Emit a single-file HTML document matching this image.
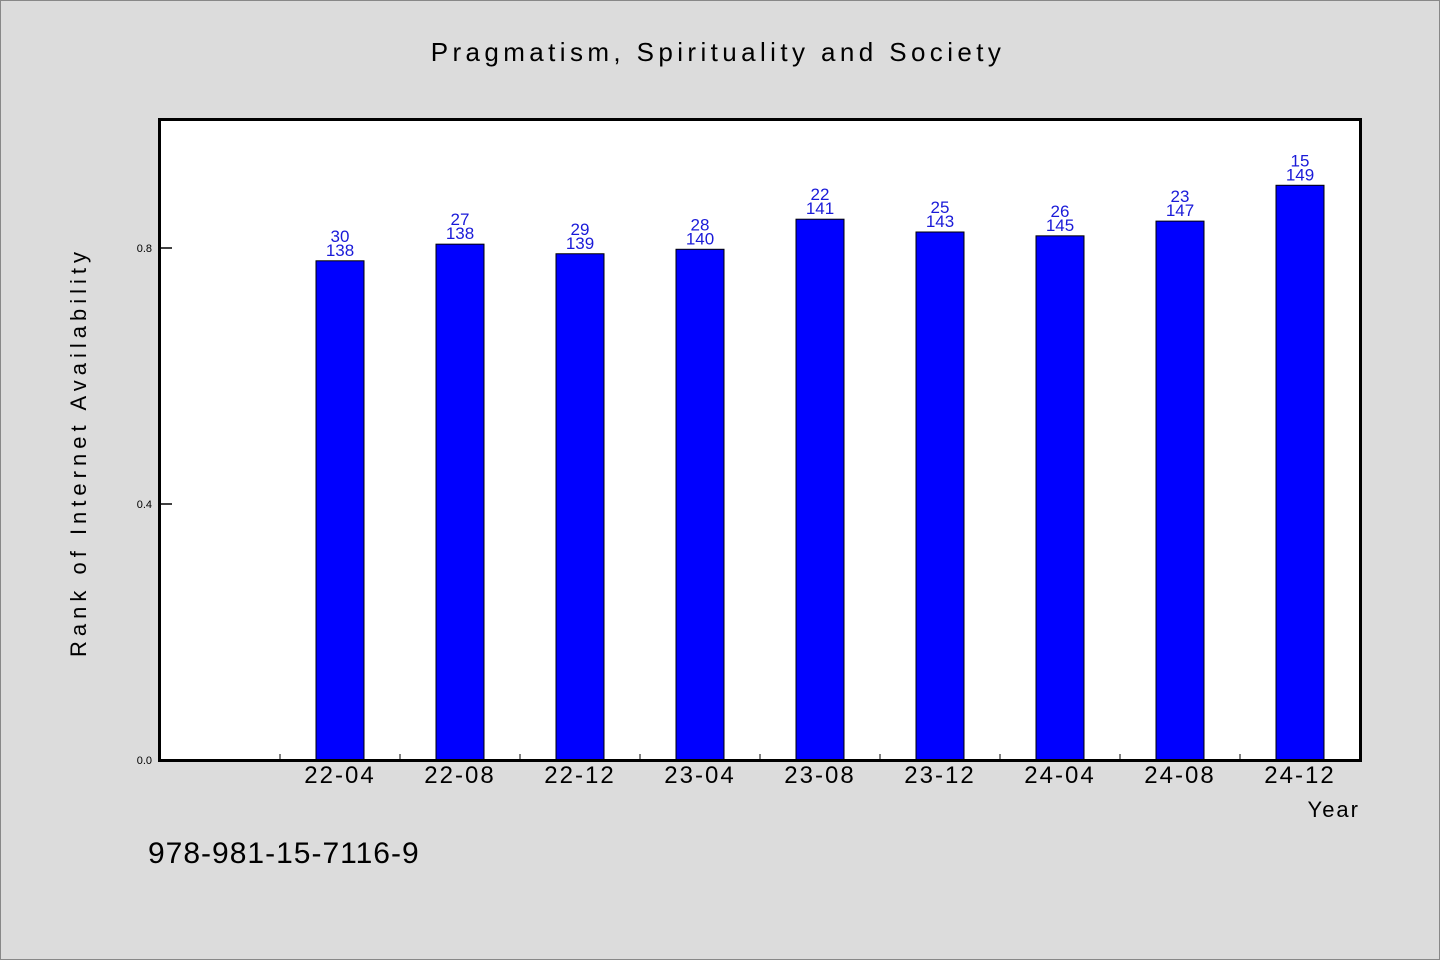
<!DOCTYPE html>
<html><head><meta charset="utf-8"><style>
html,body{margin:0;padding:0;background:#dcdcdc;}
svg{display:block;font-family:"Liberation Sans",sans-serif;}
</style></head><body>
<svg id="chart" width="1440" height="960" xmlns="http://www.w3.org/2000/svg">
<rect x="0.5" y="0.5" width="1439" height="959" fill="#dcdcdc" stroke="#888"/>
<text x="718" y="61" font-size="26" letter-spacing="4.4" text-anchor="middle" fill="#000">Pragmatism, Spirituality and Society</text>
<rect x="159.5" y="119.5" width="1201" height="641" fill="#fff"/>
<g id="marks"></g>
<rect x="159.5" y="119.5" width="1201" height="641" fill="none" stroke="#000" stroke-width="3"/>
<text x="86" y="452" font-size="22" letter-spacing="5" text-anchor="middle" transform="rotate(-90 86 452)" fill="#000">Rank of Internet Availability</text>
<text x="1360" y="817" font-size="22" letter-spacing="2" text-anchor="end" fill="#000">Year</text>
<text x="148" y="863" font-size="30" letter-spacing="1" fill="#000">978-981-15-7116-9</text>
</svg>
<script>
const categories = ["22-04","22-08","22-12","23-04","23-08","23-12","24-04","24-08","24-12"];
const values = [0.780,0.806,0.791,0.798,0.845,0.825,0.819,0.842,0.898];
const ranks = ["30","27","29","28","22","25","26","23","15"];
const counts = ["138","138","139","140","141","143","145","147","149"];
const yTicks = [0.0,0.4,0.8];
const yTickLabels = ["0.0","0.4","0.8"];

const NS="http://www.w3.org/2000/svg";
const g=document.getElementById('marks');
const x0=160,x1=1360,yb=760,yMax=1.0,yt=120;
const slot=(x1-x0)/(categories.length+1);
const xc=i=>x0+slot*(i+1)+slot/2;
const y=v=>yb-(v/yMax)*(yb-yt);
function mk(tag,attrs){const e=document.createElementNS(NS,tag);for(const k in attrs)e.setAttribute(k,attrs[k]);g.appendChild(e);return e;}
yTicks.forEach((t,i)=>{
  const l=mk('line',{x1:160,x2:172,y1:y(t),y2:y(t),stroke:'#000','stroke-width':1.5});
  
  
  const tx=mk('text',{x:152,y:y(t)+4,'font-size':11,'text-anchor':'end',fill:'#000'});
  tx.textContent=yTickLabels[i];
  
  
});
for(let i=0;i<categories.length;i++){
  const tk=mk('line',{x1:x0+slot*(i+1),x2:x0+slot*(i+1),y1:yb,y2:yb-6,stroke:'#000','stroke-width':1});
  
  
}
categories.forEach((c,i)=>{
  const cx=xc(i),top=y(values[i]);
  const r=mk('rect',{x:cx-24,y:top,width:48,height:yb-top,fill:'#0000ff',stroke:'#000','stroke-width':1});
  
  
  const a=mk('text',{x:cx,y:top-19,'font-size':17,'text-anchor':'middle',fill:'#1a1ad8'});
  a.textContent=ranks[i];
  
  
  const b=mk('text',{x:cx,y:top-5,'font-size':17,'text-anchor':'middle',fill:'#1a1ad8'});
  b.textContent=counts[i];
  
  
  const xl=mk('text',{x:cx,y:783,'font-size':24,'letter-spacing':2,'text-anchor':'middle',fill:'#000'});
  xl.textContent=c;
  
  
});
</script>
</body></html>
